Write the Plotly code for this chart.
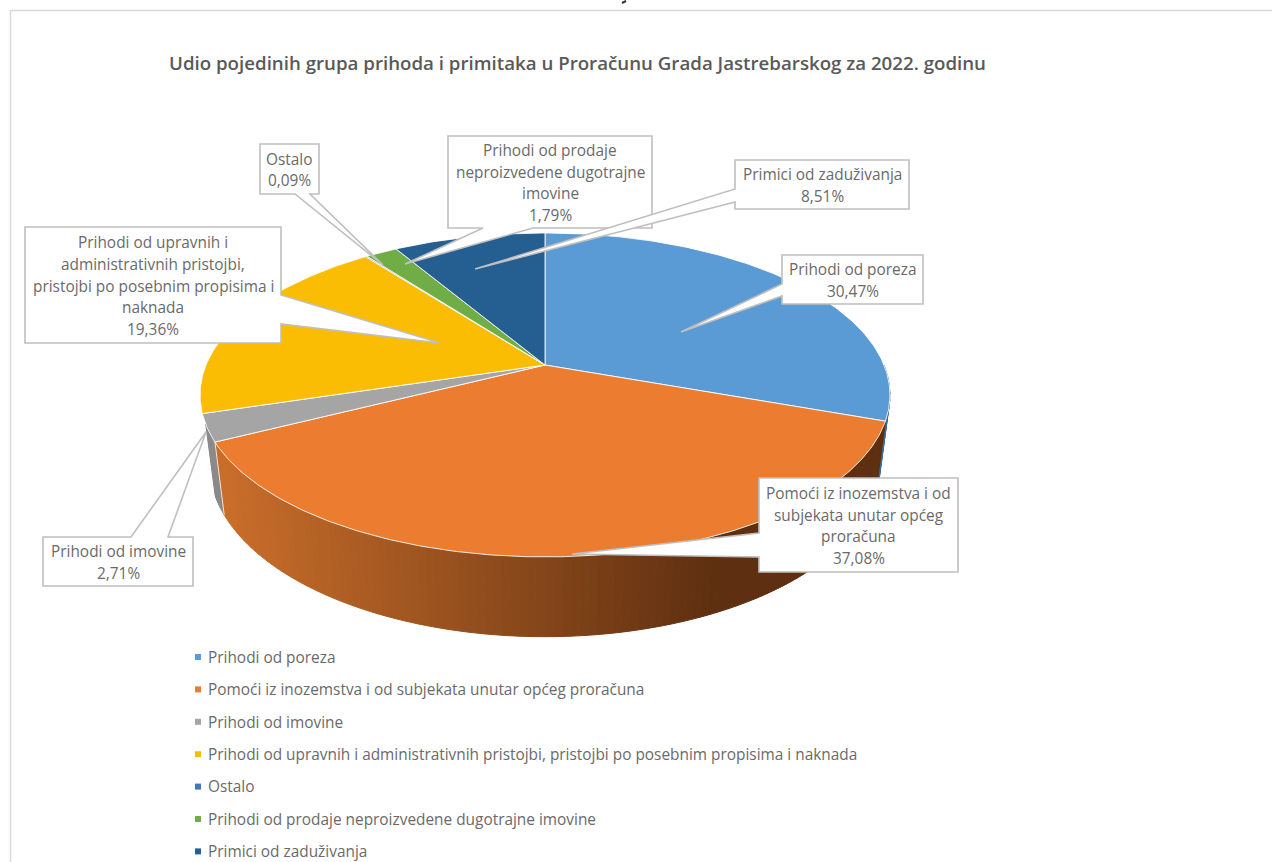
import math
import plotly.graph_objects as go

categories = [
    "Prihodi od poreza",
    "Pomoći iz inozemstva i od subjekata unutar općeg proračuna",
    "Prihodi od imovine",
    "Prihodi od upravnih i administrativnih pristojbi, pristojbi po posebnim propisima i naknada",
    "Ostalo",
    "Prihodi od prodaje neproizvedene dugotrajne imovine",
    "Primici od zaduživanja",
]
values = [30.47, 37.08, 2.71, 19.36, 0.09, 1.79, 8.51]
colors = ["#5B9BD5", "#EB7C30", "#A5A5A5", "#FBBC04", "#4472C4", "#70AD47", "#255E91"]
side_colors = {0: "#3B6B97", 2: "#8A8A8A"}
title = "Udio pojedinih grupa prihoda i primitaka u Proračunu Grada Jastrebarskog za 2022. godinu"
FONT = "Open Sans"
FS = 15.4
TXT = "#6A6A6A"

# perspective disc of the "3-D" pie (axes are in page pixels)
K = 0.185
def top(t):
    X, Y = math.sin(t), math.cos(t)
    w = 1 + K * Y
    return 545 + 339 * X / w, 365 - 156.4 * Y / w
def bottom(t):
    X, Y = math.sin(t), math.cos(t)
    w = 1 + K * Y
    return 545 + 329.5 * X / w, 433 - 166 * Y / w

total = sum(values)
edges = [0.0]
for v in values:
    edges.append(edges[-1] + v / total * 2 * math.pi)

fig = go.Figure()

def poly(pts, fill, line=None, width=1, name=None):
    fig.add_trace(go.Scatter(
        x=[p[0] for p in pts], y=[p[1] for p in pts], mode="lines", fill="toself",
        fillcolor=fill, line=dict(color=line or fill, width=width),
        hoverinfo="skip" if name is None else "name", name=name or "", showlegend=False))

def mix(x):
    f = min(max((x - 225) / (720 - 225), 0), 1)
    a, b = (200, 109, 42), (94, 47, 16)
    return "rgb(%d,%d,%d)" % tuple(round(a[i] + (b[i] - a[i]) * f) for i in range(3))

# side wall
for i in [0, 2, 1]:
    a = max(edges[i], math.pi / 2)
    b = min(edges[i + 1], 1.385 * math.pi)
    if b <= a:
        continue
    n = 110 if i == 1 else 8
    for j in range(n):
        t0 = a + (b - a) * j / n
        t1 = a + (b - a) * (j + 1) / n
        pts = [top(t0), top(t1), bottom(t1), bottom(t0), top(t0)]
        col = mix((pts[0][0] + pts[1][0]) / 2) if i == 1 else side_colors[i]
        poly(pts, col)

# pale seam between the orange and grey walls
s = edges[2]
fig.add_trace(go.Scatter(x=[top(s)[0], bottom(s)[0]], y=[top(s)[1], bottom(s)[1]], mode="lines",
                         line=dict(color="#F2E6DC", width=1), hoverinfo="skip", showlegend=False))

# top faces
for i, (v, c, n) in enumerate(zip(values, colors, categories)):
    a, b = edges[i], edges[i + 1]
    m = max(3, int((b - a) * 80))
    pts = [(545, 365)] + [top(a + (b - a) * j / m) for j in range(m + 1)] + [(545, 365)]
    poly(pts, c, "rgba(255,255,255,0.85)", 1, n)

# legend drawn from the categories
legend_y = [657 + 32.4 * i for i in range(len(categories))]
fig.add_trace(go.Scatter(
    x=[198] * len(categories), y=legend_y, mode="markers",
    marker=dict(symbol="square", size=6, color=colors, line=dict(width=0)),
    hoverinfo="skip", showlegend=False))
fig.add_trace(go.Scatter(
    x=[208] * len(categories), y=[v + 2 for v in legend_y], mode="text", text=categories,
    textposition="middle right", textfont=dict(family=FONT, size=FS, color=TXT),
    hoverinfo="skip", showlegend=False))

# callouts: box (x0,y0,x1,y1), pointer side, pointer base, tip
callouts = [
    ((782, 255, 923, 304), "left", (284, 296), (681, 332)),
    ((759, 478, 958, 572), "left", (533, 557), (572, 554)),
    ((43, 537, 193, 586), "top", (131, 168), (206, 432)),
    ((25, 227, 281, 343), "right", (295, 324), (440, 343)),
    ((260, 144, 319, 194), "bottom", (295, 310), (383, 265)),
    ((448, 136, 652, 228), "bottom", (483, 533), (405, 264)),
    ((735, 160, 909, 209), "left", (189, 202), (475, 269)),
]
label_lines = [
    ["Prihodi od poreza"],
    ["Pomoći iz inozemstva i od", "subjekata unutar općeg", "proračuna"],
    ["Prihodi od imovine"],
    ["Prihodi od upravnih i", "administrativnih pristojbi,", "pristojbi po posebnim propisima i", "naknada"],
    ["Ostalo"],
    ["Prihodi od prodaje", "neproizvedene dugotrajne", "imovine"],
    ["Primici od zaduživanja"],
]
LINE_STEP = 21.7
shapes = [
    dict(type="path", path="M 1272 10.5 L 10.5 10.5 L 10.5 862", line=dict(color="#D9D9D9", width=1.5), layer="below"),
    dict(type="path", path="M 622 3 L 626 1", line=dict(color="#333333", width=2), layer="below"),
]
annotations = []
for i, ((box, side, base, tip), lines) in enumerate(zip(callouts, label_lines)):
    x0, y0, x1, y1 = box
    if side == "left":
        p = [(x0, y0), (x1, y0), (x1, y1), (x0, y1), (x0, base[1]), tip, (x0, base[0])]
    elif side == "right":
        p = [(x0, y0), (x1, y0), (x1, base[0]), tip, (x1, base[1]), (x1, y1), (x0, y1)]
    elif side == "top":
        p = [(x0, y0), (base[0], y0), tip, (base[1], y0), (x1, y0), (x1, y1), (x0, y1)]
    else:
        p = [(x0, y0), (x1, y0), (x1, y1), (base[1], y1), tip, (base[0], y1), (x0, y1)]
    path = "M " + " L ".join("%g %g" % q for q in p) + " Z"
    shapes.append(dict(type="path", path=path, fillcolor="white", line=dict(color="#BFBFBF", width=1.6), layer="above"))
    pct = ("%.2f" % values[i]).replace(".", ",") + "%"
    rows = lines + [pct]
    yc = (y0 + y1) / 2 - (len(rows) - 1) * LINE_STEP / 2 + 1
    for k, row in enumerate(rows):
        annotations.append(dict(
            x=(x0 + x1) / 2, y=yc + k * LINE_STEP, xref="x", yref="y", showarrow=False,
            text=row, font=dict(family=FONT, size=FS, color=TXT), xanchor="center", yanchor="middle"))

annotations.append(dict(x=167, y=62, xref="x", yref="y", showarrow=False, xanchor="left", yanchor="middle",
                        text=title, font=dict(family=FONT, size=18.7, color="#595959", weight=600)))

fig.update_layout(
    width=1272, height=862, margin=dict(l=0, r=0, t=0, b=0), autosize=False,
    paper_bgcolor="white", plot_bgcolor="white", showlegend=False,
    xaxis=dict(range=[0, 1272], visible=False, fixedrange=True),
    yaxis=dict(range=[862, 0], visible=False, fixedrange=True),
    shapes=shapes, annotations=annotations, hovermode="closest",
)
fig.write_html("out.html", config=dict(displayModeBar=False),
               post_script="document.body.style.margin='0';document.body.style.overflow='hidden';")
